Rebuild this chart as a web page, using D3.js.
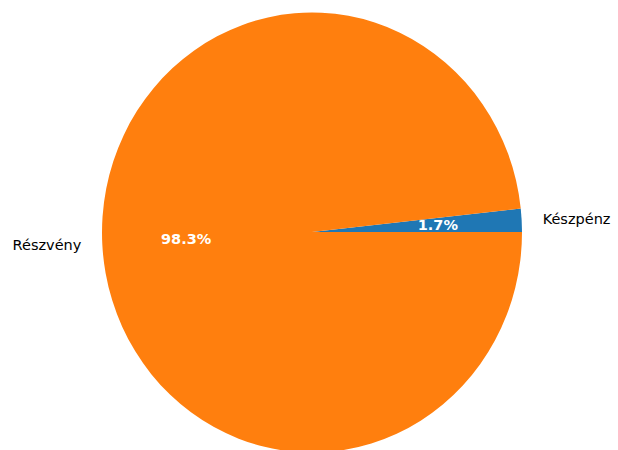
<!DOCTYPE html>
<html>
<head>
<meta charset="utf-8">
<script src="https://cdn.jsdelivr.net/npm/d3@7"></script>
<style>
  body { margin: 0; background: #fff; }
  text { font-family: "DejaVu Sans", sans-serif; }
</style>
</head>
<body>
<div id="chart"></div>
<script>
var labels = ["Készpénz", "Részvény"];
var values = [1.7, 98.3];
var colors = ["#1f77b4", "#ff7f0e"];

var width = 618;
var height = 450;
var cx = 312, cy = 232;
var rx = 210, ry = 220;

var svg = d3.select("#chart")
  .append("svg")
  .attr("width", width)
  .attr("height", height);

var g = svg.append("g")
  .attr("transform", "translate(" + cx + "," + cy + ")");

// matplotlib style: start at 3 o'clock, counterclockwise
var pie = d3.pie()
  .sort(null)
  .value(function (d) { return d; })
  .startAngle(Math.PI / 2)
  .endAngle(Math.PI / 2 - 2 * Math.PI);

var arcs = pie(values);

var arc = d3.arc().innerRadius(0).outerRadius(1);

g.append("g")
  .attr("transform", "scale(" + rx + "," + ry + ")")
  .selectAll("path")
  .data(arcs)
  .enter()
  .append("path")
  .attr("d", arc)
  .style("fill", function (d, i) { return colors[i]; });

function pos(d, f) {
  var mid = (d.startAngle + d.endAngle) / 2;
  return [f * rx * Math.sin(mid), -f * ry * Math.cos(mid)];
}

g.selectAll("text.lab")
  .data(arcs)
  .enter()
  .append("text")
  .attr("class", "lab")
  .attr("x", function (d) { return pos(d, 1.1)[0]; })
  .attr("y", function (d) { return pos(d, 1.1)[1]; })
  .attr("dy", "0.35em")
  .attr("text-anchor", function (d) { return pos(d, 1)[0] > 0 ? "start" : "end"; })
  .style("font-size", "14.5px")
  .style("fill", "#000")
  .text(function (d, i) { return labels[i]; });

g.selectAll("text.pct")
  .data(arcs)
  .enter()
  .append("text")
  .attr("class", "pct")
  .attr("x", function (d) { return pos(d, 0.6)[0]; })
  .attr("y", function (d) { return pos(d, 0.6)[1]; })
  .attr("dy", "0.35em")
  .attr("text-anchor", "middle")
  .style("font-size", "14.5px")
  .style("font-weight", "bold")
  .style("fill", "#fff")
  .text(function (d) { return d.data.toFixed(1) + "%"; });
</script>
</body>
</html>
